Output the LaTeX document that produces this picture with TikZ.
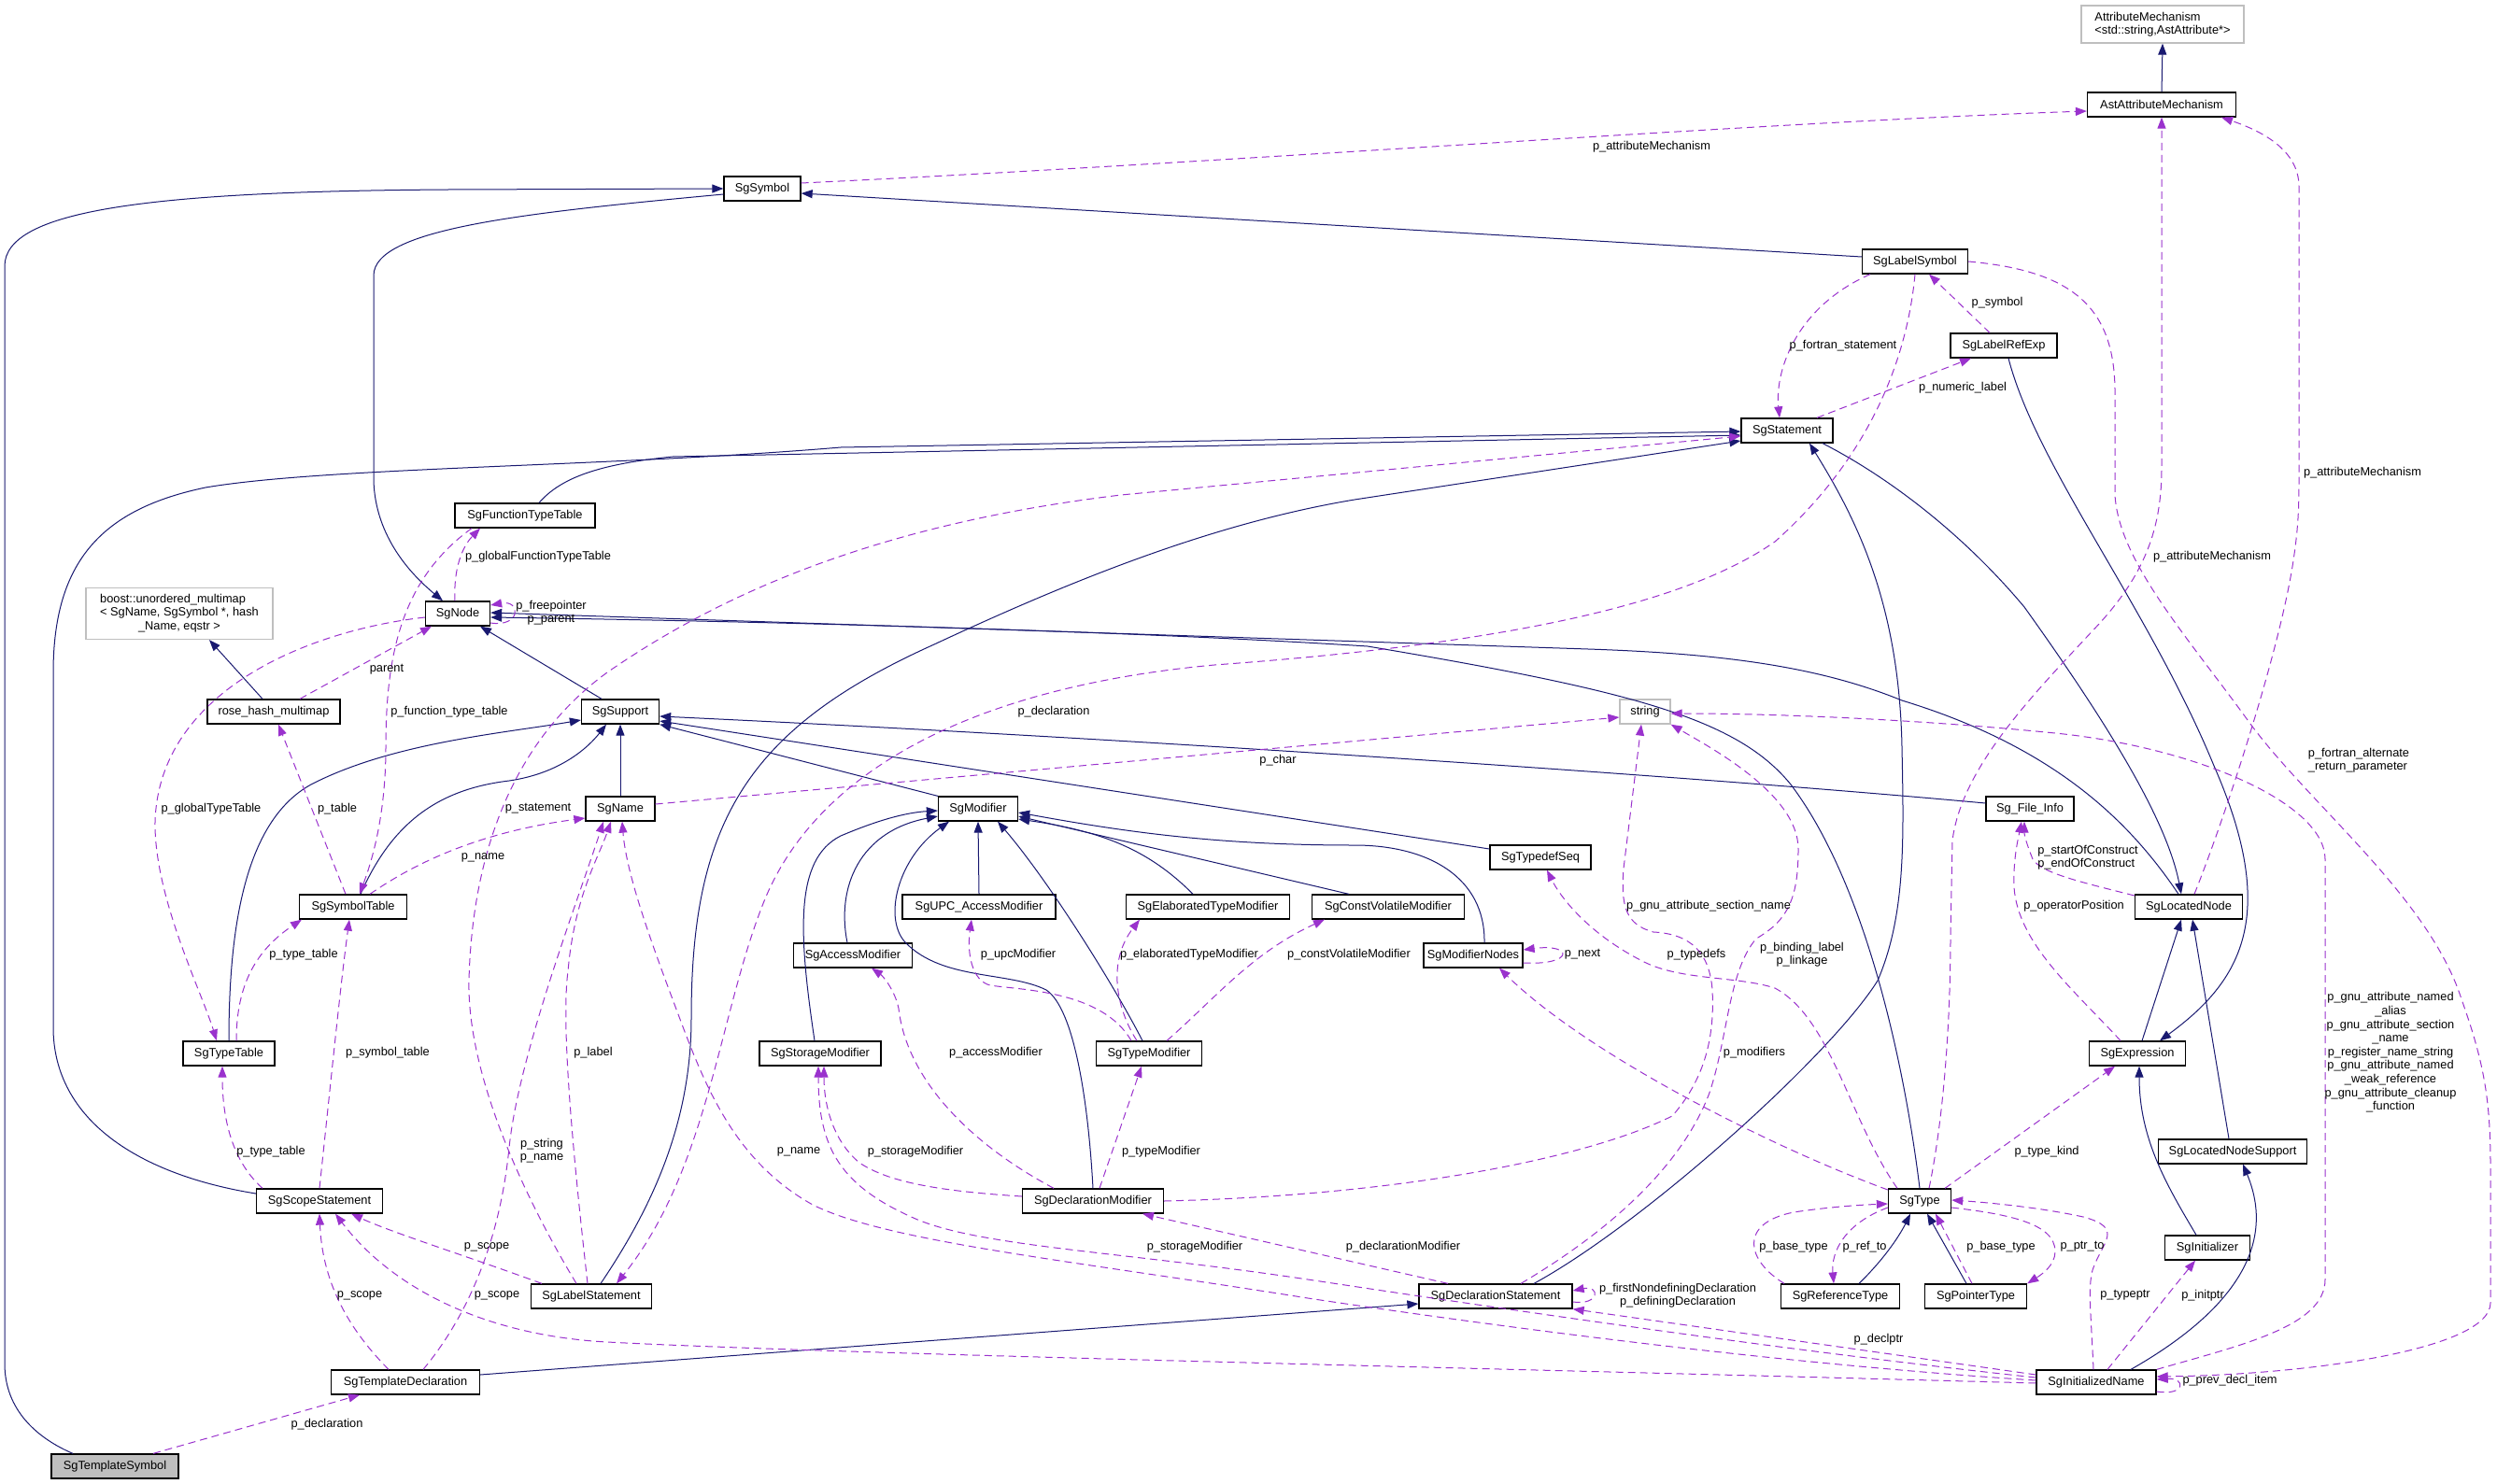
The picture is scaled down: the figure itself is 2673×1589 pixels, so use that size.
\documentclass[tikz,border=0pt]{standalone}
\usepackage{fontspec}
\setmainfont{Liberation Sans}
\usepackage{tikz}
\usetikzlibrary{arrows.meta}
\definecolor{inhcol}{RGB}{25,25,112}
\definecolor{usecol}{RGB}{154,50,205}

\begin{document}
\begin{tikzpicture}[
    x=1pt, y=-1pt,
    font=\fontsize{12.8}{14.6}\selectfont,
    cls/.style={draw=black, line width=1.3pt, fill=white, minimum height=26pt, inner sep=0pt},
    extcls/.style={draw=black!25, line width=1.3pt, fill=white, inner xsep=9pt, inner ysep=3pt},
    maincls/.style={cls, fill=black!25},
    inh/.style={draw=inhcol, line width=1pt, -{Triangle[length=12pt,width=9pt]}},
    use/.style={draw=usecol, line width=1pt, dash pattern=on 8pt off 5pt, -{Triangle[length=12pt,width=9pt]}},
    lbl/.style={inner sep=0pt, align=center}
]
\useasboundingbox (0,0) rectangle (2673,1589);

% Class boxes.
\node[extcls, minimum width=174pt, minimum height=40pt, align=left] (attrmech) at (2315,26) {AttributeMechanism\\<std::string,AstAttribute*>};
\node[cls, minimum width=159pt] (astattr) at (2314,112) {AstAttributeMechanism};
\node[cls, minimum width=82pt] (sgsymbol) at (816,202) {SgSymbol};
\node[cls, minimum width=113pt] (labelsym) at (2050,280) {SgLabelSymbol};
\node[cls, minimum width=114pt] (labelref) at (2145,370) {SgLabelRefExp};
\node[cls, minimum width=98pt] (statement) at (1913,461) {SgStatement};
\node[cls, minimum width=150pt] (functable) at (562,552) {SgFunctionTypeTable};
\node[extcls, minimum width=200pt, minimum height=55pt] (multimap) at (192,657)
    {\begin{tabular}{@{}l@{}}boost::unordered\_multimap\\< SgName, SgSymbol *, hash\\\multicolumn{1}{@{}c@{}}{\_Name, eqstr >}\end{tabular}};
\node[cls, minimum width=69pt] (sgnode) at (490,657) {SgNode};
\node[cls, minimum width=142pt] (rosehash) at (293,762) {rose\_hash\_multimap};
\node[cls, minimum width=83pt] (support) at (664,762) {SgSupport};
\node[extcls, minimum width=54pt, minimum height=26pt, inner sep=0pt] (strg) at (1761,762) {string};
\node[cls, minimum width=74pt] (sgname) at (664,866) {SgName};
\node[cls, minimum width=85pt] (modifier) at (1047,866) {SgModifier};
\node[cls, minimum width=94pt] (fileinfo) at (2173,866) {Sg\_File\_Info};
\node[cls, minimum width=108pt] (typedefseq) at (1649,918) {SgTypedefSeq};
\node[cls, minimum width=115pt] (symtable) at (378,971) {SgSymbolTable};
\node[cls, minimum width=164pt] (upcmod) at (1048,971) {SgUPC\_AccessModifier};
\node[cls, minimum width=175pt] (elabmod) at (1293,971) {SgElaboratedTypeModifier};
\node[cls, minimum width=163pt] (cvmod) at (1486,971) {SgConstVolatileModifier};
\node[cls, minimum width=115pt] (locnode) at (2343,971) {SgLocatedNode};
\node[cls, minimum width=127pt] (accessmod) at (913,1023) {SgAccessModifier};
\node[cls, minimum width=106pt] (modnodes) at (1577,1023) {SgModifierNodes};
\node[cls, minimum width=98pt] (typetable) at (245,1128) {SgTypeTable};
\node[cls, minimum width=130pt] (storagemod) at (878,1128) {SgStorageModifier};
\node[cls, minimum width=113pt] (typemod) at (1230,1128) {SgTypeModifier};
\node[cls, minimum width=103pt] (expression) at (2288,1128) {SgExpression};
\node[cls, minimum width=159pt] (locsupport) at (2390,1233) {SgLocatedNodeSupport};
\node[cls, minimum width=135pt] (scopestmt) at (342,1286) {SgScopeStatement};
\node[cls, minimum width=151pt] (declmod) at (1170,1286) {SgDeclarationModifier};
\node[cls, minimum width=67pt] (sgtype) at (2055,1286) {SgType};
\node[cls, minimum width=91pt] (initializer) at (2363,1336) {SgInitializer};
\node[cls, minimum width=129pt] (labelstmt) at (633,1388) {SgLabelStatement};
\node[cls, minimum width=164pt] (declstmt) at (1601,1388) {SgDeclarationStatement};
\node[cls, minimum width=127pt] (reftype) at (1970,1388) {SgReferenceType};
\node[cls, minimum width=109pt] (ptrtype) at (2115,1388) {SgPointerType};
\node[cls, minimum width=159pt] (templdecl) at (434,1480) {SgTemplateDeclaration};
\node[cls, minimum width=128pt] (initname) at (2244,1480) {SgInitializedName};
\node[maincls, minimum width=136pt] (templsym) at (123,1570) {SgTemplateSymbol};

% Base classes (solid).
\draw[inh] ([xshift=-45pt]templsym.north) .. controls (40,1540) and (5,1510) .. (5,1460) -- (5,285) .. controls (5,225) and (160,205) .. (480,203) -- (sgsymbol.west);
\draw[inh] ([yshift=-6pt]sgsymbol.west) .. controls (560,228) and (400,245) .. (400,295) -- (400,515) .. controls (402,575) and (440,615) .. ([xshift=-16pt]sgnode.north);
\draw[inh] ([yshift=5pt]labelsym.west) -- ([yshift=-5pt]sgsymbol.east);
\draw[inh] (astattr.north) -- (attrmech.south);
\draw[inh] ([yshift=8pt]scopestmt.west) .. controls (150,1258) and (57,1200) .. (57,1100) -- (57,720) .. controls (57,600) and (110,545) .. (220,522) .. controls (350,500) and (650,500) .. (900,479) -- ([yshift=-1pt]statement.west);
\draw[inh] ([xshift=15pt]functable.north) .. controls (600,512) and (640,497) .. (720,489) -- ([yshift=-5pt]statement.west);
\draw[inh] ([xshift=10pt]labelstmt.north) .. controls (700,1290) and (740,1200) .. (740,1090) .. controls (740,880) and (800,780) .. (1000,690) .. controls (1150,620) and (1300,560) .. (1450,535) -- ([yshift=-11pt]statement.west);
\draw[inh] ([xshift=41pt]declstmt.north) .. controls (1760,1310) and (1960,1130) .. (2010,1050) .. controls (2040,980) and (2038,900) .. (2036,800) .. controls (2033,650) and (1990,560) .. ([xshift=24pt]statement.south);
\draw[inh] ([xshift=38pt]statement.south) .. controls (2020,510) and (2100,570) .. (2167,650) .. controls (2260,780) and (2320,880) .. ([xshift=-8pt]locnode.north);
\draw[inh] ([xshift=5pt]labelref.south) .. controls (2180,500) and (2300,650) .. (2370,820) .. controls (2440,980) and (2400,1050) .. ([xshift=24pt]expression.north);
\draw[inh] ([xshift=5pt]expression.north) -- ([xshift=-8pt]locnode.south);
\draw[inh] ([xshift=-4pt]locsupport.north) -- ([xshift=4pt]locnode.south);
\draw[inh] ([xshift=-12pt]initializer.north) .. controls (2320,1270) and (2290,1220) .. ([xshift=2pt]expression.south);
\draw[inh] ([xshift=37pt]initname.north) .. controls (2380,1410) and (2440,1340) .. ([xshift=11pt]locsupport.south);
\draw[inh] ([xshift=20pt]reftype.north) .. controls (2020,1345) and (2035,1320) .. ([xshift=-10pt]sgtype.south);
\draw[inh] ([xshift=-10pt]ptrtype.north) -- ([xshift=8pt]sgtype.south);
\draw[inh] (sgtype.north) .. controls (2040,1150) and (2000,950) .. (1917,840) .. controls (1860,770) and (1750,740) .. (1464,692) .. controls (1200,675) and (800,665) .. ([yshift=-4pt]sgnode.east);
\draw[inh] ([xshift=-11pt]locnode.north) .. controls (2280,880) and (2200,800) .. (2036,750) .. controls (1950,715) and (1850,700) .. (1700,695) -- ([yshift=1pt]sgnode.east);
\draw[inh] ([xshift=-20pt]support.north) -- ([xshift=24pt]sgnode.south);
\draw[inh] (sgname.north) -- (support.south);
\draw[inh] ([xshift=8pt]symtable.north) .. controls (420,880) and (470,845) .. (545,836) .. controls (600,828) and (630,800) .. ([xshift=-15pt]support.south);
\draw[inh] (typetable.north) .. controls (245,1000) and (260,880) .. (333,840) .. controls (420,795) and (540,785) .. ([yshift=-9pt]support.west);
\draw[inh] (modifier.north west) -- (support.south east);
\draw[inh] ([yshift=9pt]typedefseq.west) -- ([yshift=-10pt]support.east);
\draw[inh] ([yshift=6pt]fileinfo.west) .. controls (1800,830) and (1200,790) .. ([yshift=-5pt]support.east);
\draw[inh] ([xshift=12pt]modnodes.north) .. controls (1590,940) and (1530,905) .. (1450,905) .. controls (1300,905) and (1200,890) .. ([yshift=-4pt]modifier.east);
\draw[inh] ([xshift=-42pt]cvmod.north) -- ([yshift=-8pt]modifier.east);
\draw[inh] ([xshift=-16pt]elabmod.north) .. controls (1230,910) and (1180,890) .. ([yshift=-11pt]modifier.east);
\draw[inh] (upcmod.north) -- (modifier.south);
\draw[inh] ([xshift=-7pt]typemod.north) .. controls (1190,1050) and (1120,940) .. ([xshift=21pt]modifier.south);
\draw[inh] (declmod.north) .. controls (1165,1180) and (1150,1080) .. (1120,1060) .. controls (1080,1040) and (1010,1050) .. (970,1010) .. controls (945,985) and (960,920) .. ([xshift=-31pt]modifier.south);
\draw[inh] ([xshift=-6pt]accessmod.north) .. controls (895,950) and (920,890) .. ([yshift=-8pt]modifier.west);
\draw[inh] ([xshift=-6pt]storagemod.north) .. controls (855,1000) and (850,920) .. (900,895) .. controls (940,878) and (970,870) .. ([yshift=-2pt]modifier.west);
\draw[inh] ([yshift=8pt]templdecl.east) -- ([yshift=-8pt]declstmt.west);
\draw[inh] ([xshift=-12pt]rosehash.north) -- ([xshift=32pt]multimap.south);

% Member pointers (dashed).
\draw[use] ([yshift=6pt]sgsymbol.east) .. controls (1300,175) and (1900,130) .. ([yshift=-7pt]astattr.west);
\draw[use] ([xshift=-48pt]labelsym.south) .. controls (1920,330) and (1900,400) .. ([xshift=-8pt]statement.north);
\draw[use] ([xshift=-15pt]labelref.north) -- ([xshift=15pt]labelsym.south);
\draw[use] ([xshift=32pt]statement.north) -- ([xshift=-35pt]labelref.south);
\draw[use] (labelsym.south) .. controls (2040,400) and (1990,500) .. (1900,580) .. controls (1800,650) and (1600,690) .. (1300,712) .. controls (1050,735) and (880,820) .. (820,960) .. controls (770,1080) and (760,1250) .. ([xshift=27pt]labelstmt.north);
\draw[use] (labelsym.east) .. controls (2220,290) and (2264,330) .. (2264,420) -- (2264,530) .. controls (2268,600) and (2340,680) .. (2406,771) .. controls (2470,860) and (2600,960) .. (2635,1070) .. controls (2660,1140) and (2666,1180) .. (2666,1250) -- (2666,1395) .. controls (2666,1445) and (2470,1472) .. ([yshift=6pt]initname.east);
\draw[use] ([xshift=10pt]sgtype.north) .. controls (2080,1200) and (2088,1100) .. (2088,1000) -- (2090,900) .. controls (2100,820) and (2180,740) .. (2247,668) .. controls (2300,610) and (2314,560) .. (2314,500) -- (astattr.south);
\draw[use] ([xshift=6pt]locnode.north) .. controls (2380,880) and (2440,700) .. (2455,600) .. controls (2461,560) and (2461,540) .. (2461,500) -- (2461,200) .. controls (2461,160) and (2420,140) .. ([xshift=64pt]astattr.south);
\draw[use] ([yshift=5pt]sgname.east) -- ([yshift=-6pt]strg.west);
\draw[use] (declmod.east) .. controls (1500,1280) and (1700,1240) .. (1790,1195) .. controls (1830,1150) and (1835,1100) .. (1833,1060) .. controls (1830,1020) and (1810,1000) .. (1770,998) .. controls (1740,990) and (1735,970) .. (1738,930) -- ([xshift=-4pt]strg.south);
\draw[use] ([xshift=27pt]declstmt.north) .. controls (1720,1320) and (1800,1250) .. (1830,1170) .. controls (1850,1110) and (1850,1040) .. (1880,1005) .. controls (1915,985) and (1925,960) .. (1925,909) .. controls (1925,850) and (1830,800) .. (strg.south east);
\draw[use] (initname.north east) .. controls (2400,1440) and (2489,1420) .. (2489,1370) -- (2489,920) .. controls (2489,860) and (2350,800) .. (2200,785) .. controls (2050,770) and (1900,764) .. ([yshift=-2pt]strg.east);
\draw[use] ([xshift=-24pt]sgtype.north) .. controls (1980,1200) and (1960,1090) .. (1900,1058) .. controls (1860,1045) and (1800,1050) .. (1760,1030) .. controls (1700,1000) and (1670,960) .. ([xshift=7pt]typedefseq.south);
\draw[use] ([yshift=12pt]sgtype.west) .. controls (1900,1230) and (1700,1130) .. ([xshift=28pt]modnodes.south);
\draw[use] ([xshift=27pt]sgtype.north) -- ([xshift=-24pt]expression.south);
\draw[use] ([xshift=-18pt]expression.north) .. controls (2220,1060) and (2160,1010) .. (2156,950) .. controls (2155,920) and (2160,900) .. ([xshift=-9pt]fileinfo.south);
\draw[use] ([yshift=12pt]locnode.west) .. controls (2230,945) and (2185,935) .. (2176,920) .. controls (2170,905) and (2167,895) .. ([xshift=-6pt]fileinfo.south);
\draw[use] ([xshift=-60pt]reftype.north) .. controls (1870,1350) and (1860,1310) .. (1920,1298) .. controls (1960,1292) and (1995,1290) .. ([yshift=-3pt]sgtype.west);
\draw[use] ([yshift=-7pt]sgtype.west) .. controls (1975,1310) and (1960,1340) .. ([xshift=-7pt]reftype.north);
\draw[use] ([xshift=-4pt]ptrtype.north) -- ([xshift=17pt]sgtype.south);
\draw[use] ([yshift=-7pt]sgtype.east) .. controls (2150,1300) and (2200,1310) .. (2200,1340) .. controls (2200,1355) and (2185,1365) .. (ptrtype.north east);
\draw[use] ([xshift=-3pt]initname.north) .. controls (2238,1400) and (2235,1380) .. (2240,1360) .. controls (2250,1330) and (2275,1315) .. (2230,1303) .. controls (2180,1292) and (2120,1287) .. ([yshift=1pt]sgtype.east);
\draw[use] ([xshift=12pt]initname.north) -- ([xshift=-13pt]initializer.south);
\draw[use] ([yshift=-10pt]initname.east) .. controls (2340,1495) and (2340,1475) .. ([yshift=3pt]initname.east);
\draw[use] ([yshift=8pt]initname.west) -- (declstmt.south east);
\draw[use] ([yshift=5pt]initname.west) .. controls (1900,1445) and (1600,1400) .. (1400,1370) .. controls (1200,1340) and (1050,1335) .. (980,1305) .. controls (900,1270) and (876,1230) .. ([xshift=-2pt]storagemod.south);
\draw[use] ([yshift=5pt]declmod.west) .. controls (1000,1275) and (950,1265) .. (920,1245) .. controls (890,1220) and (882,1180) .. ([xshift=4pt]storagemod.south);
\draw[use] ([yshift=2pt]initname.west) .. controls (1900,1460) and (1600,1420) .. (1400,1390) .. controls (1150,1350) and (950,1330) .. (870,1290) .. controls (780,1240) and (750,1150) .. (720,1070) .. controls (690,990) and (670,930) .. ([xshift=2pt]sgname.south);
\draw[use] ([yshift=-1pt]initname.west) .. controls (1600,1465) and (900,1450) .. (650,1437) .. controls (520,1430) and (420,1380) .. ([xshift=17pt]scopestmt.south);
\draw[use] ([xshift=-18pt]templdecl.north) .. controls (370,1420) and (345,1370) .. (scopestmt.south);
\draw[use] ([xshift=-53pt]labelstmt.north) .. controls (500,1345) and (420,1320) .. ([xshift=34pt]scopestmt.south);
\draw[use] ([xshift=19pt]templdecl.north) .. controls (500,1410) and (535,1330) .. (545,1229) .. controls (555,1130) and (620,960) .. ([xshift=-18pt]sgname.south);
\draw[use] ([xshift=-4pt]labelstmt.north) .. controls (615,1250) and (600,1100) .. (608,1040) .. controls (615,960) and (640,920) .. ([xshift=-10pt]sgname.south);
\draw[use] ([xshift=-16pt]labelstmt.north) .. controls (560,1280) and (500,1150) .. (502,1050) .. controls (505,930) and (540,800) .. (650,720) .. controls (780,630) and (950,560) .. (1200,530) -- ([yshift=-6pt]statement.west);
\draw[use] ([xshift=18pt]symtable.north) .. controls (450,920) and (520,890) .. ([yshift=-10pt]sgname.west);
\draw[use] ([yshift=-4pt]sgnode.west) .. controls (330,675) and (170,740) .. (166,880) .. controls (165,960) and (215,1060) .. ([xshift=-13pt]typetable.north);
\draw[use] ([xshift=-3pt]sgnode.north) .. controls (485,600) and (500,580) .. ([xshift=-48pt]functable.south);
\draw[use] ([yshift=-10pt]sgnode.east) .. controls (558,672) and (558,642) .. ([yshift=9pt]sgnode.east);
\draw[use] ([xshift=28pt]rosehash.north) -- ([xshift=-28pt]sgnode.south);
\draw[use] ([xshift=-8pt]symtable.north) -- ([xshift=5pt]rosehash.south);
\draw[use] ([xshift=-57pt]functable.south) .. controls (430,620) and (413,700) .. (413,800) .. controls (413,880) and (395,930) .. ([xshift=7pt]symtable.north);
\draw[use] ([xshift=8pt]typetable.north) .. controls (253,1060) and (270,1020) .. ([xshift=-55pt]symtable.south);
\draw[use] ([xshift=-61pt]scopestmt.north) .. controls (245,1240) and (238,1190) .. ([xshift=-7pt]typetable.south);
\draw[use] (scopestmt.north) .. controls (355,1150) and (365,1050) .. ([xshift=-4pt]symtable.south);
\draw[use] ([xshift=41pt]templsym.north) -- ([xshift=-49pt]templdecl.south);
\draw[use] ([xshift=-51pt]declstmt.north) -- ([xshift=53pt]declmod.south);
\draw[use] ([xshift=-42pt]declmod.north) .. controls (1030,1220) and (970,1150) .. (962,1080) .. controls (958,1060) and (945,1045) .. ([xshift=20pt]accessmod.south);
\draw[use] ([xshift=7pt]declmod.north) -- ([xshift=-8pt]typemod.south);
\draw[use] ([xshift=-19pt]typemod.north) .. controls (1180,1060) and (1090,1060) .. (1060,1055) .. controls (1040,1050) and (1035,1020) .. ([xshift=-8pt]upcmod.south);
\draw[use] ([xshift=-13pt]typemod.north) .. controls (1195,1080) and (1185,1030) .. ([xshift=-73pt]elabmod.south);
\draw[use] ([xshift=19pt]typemod.north) .. controls (1300,1070) and (1340,1020) .. ([xshift=-68pt]cvmod.south);
\draw[use] ([yshift=-8pt]modnodes.east) .. controls (1685,1034) and (1685,1010) .. ([yshift=6pt]modnodes.east);
\draw[use] ([yshift=-6pt]declstmt.east) .. controls (1713,1398) and (1713,1376) .. ([yshift=6pt]declstmt.east);

% Labels.
\node[lbl] (lbSymAttr) at (1768,157) {p\_attributeMechanism};
\node[lbl] (lbSymbol) at (2138,324) {p\_symbol};
\node[lbl] (lbFortStmt) at (1973,370) {p\_fortran\_statement};
\node[lbl] (lbNumLabel) at (2101,415) {p\_numeric\_label};
\node[lbl] (lbTypeAttr) at (2368,596) {p\_attributeMechanism};
\node[lbl] (lbLocAttr) at (2529,506) {p\_attributeMechanism};
\node[lbl] (lbGlobFunc) at (576,596) {p\_globalFunctionTypeTable};
\node[lbl] (lbNodeSelf) at (590,656) {p\_freepointer\\p\_parent};
\node[lbl] (lbParent) at (414,717) {parent};
\node[lbl] (lbFuncTable) at (481,762) {p\_function\_type\_table};
\node[lbl] (lbLabelDecl) at (1128,762) {p\_declaration};
\node[lbl] (lbChar) at (1368,814) {p\_char};
\node[lbl, align=left] (lbAltReturn) at (2525,814) {p\_fortran\_alternate\\\_return\_parameter};
\node[lbl] (lbGlobType) at (226,866) {p\_globalTypeTable};
\node[lbl] (lbTable) at (361,866) {p\_table};
\node[lbl] (lbStatement) at (576,866) {p\_statement};
\node[lbl] (lbSymName) at (517,918) {p\_name};
\node[lbl, align=left] (lbConstruct) at (2235,918) {p\_startOfConstruct\\p\_endOfConstruct};
\node[lbl] (lbSection) at (1829,970) {p\_gnu\_attribute\_section\_name};
\node[lbl] (lbOperator) at (2220,970) {p\_operatorPosition};
\node[lbl] (lbTypeTabA) at (325,1022) {p\_type\_table};
\node[lbl] (lbUpc) at (1090,1022) {p\_upcModifier};
\node[lbl] (lbElab) at (1273,1022) {p\_elaboratedTypeModifier};
\node[lbl] (lbCv) at (1444,1022) {p\_constVolatileModifier};
\node[lbl] (lbNext) at (1694,1022) {p\_next};
\node[lbl] (lbTypedefs) at (1816,1022) {p\_typedefs};
\node[lbl] (lbBinding) at (1929,1022) {p\_binding\_label\\p\_linkage};
\node[lbl] (lbGnu) at (2559,1127) {p\_gnu\_attribute\_named\\\_alias\\p\_gnu\_attribute\_section\\\_name\\p\_register\_name\_string\\p\_gnu\_attribute\_named\\\_weak\_reference\\p\_gnu\_attribute\_cleanup\\\_function};
\node[lbl] (lbSymTab) at (415,1127) {p\_symbol\_table};
\node[lbl] (lbLabel) at (635,1127) {p\_label};
\node[lbl] (lbAccess) at (1066,1127) {p\_accessModifier};
\node[lbl] (lbModifiers) at (1878,1127) {p\_modifiers};
\node[lbl] (lbTypeTabB) at (290,1233) {p\_type\_table};
\node[lbl] (lbStrName) at (580,1232) {p\_string\\p\_name};
\node[lbl] (lbInitName) at (855,1233) {p\_name};
\node[lbl] (lbStorA) at (980,1233) {p\_storageModifier};
\node[lbl] (lbTypeMod) at (1243,1233) {p\_typeModifier};
\node[lbl] (lbTypeKind) at (2191,1233) {p\_type\_kind};
\node[lbl] (lbScopeA) at (521,1335) {p\_scope};
\node[lbl] (lbStorB) at (1279,1335) {p\_storageModifier};
\node[lbl] (lbDeclMod) at (1502,1335) {p\_declarationModifier};
\node[lbl] (lbRefBase) at (1920,1335) {p\_base\_type};
\node[lbl] (lbRefTo) at (1996,1335) {p\_ref\_to};
\node[lbl] (lbPtrBase) at (2142,1335) {p\_base\_type};
\node[lbl] (lbPtrTo) at (2229,1335) {p\_ptr\_to};
\node[lbl] (lbDeclSelf) at (1796,1387) {p\_firstNondefiningDeclaration\\p\_definingDeclaration};
\node[lbl] (lbScopeB) at (385,1387) {p\_scope};
\node[lbl] (lbScopeC) at (532,1387) {p\_scope};
\node[lbl] (lbTypePtr) at (2275,1387) {p\_typeptr};
\node[lbl] (lbInitPtr) at (2358,1387) {p\_initptr};
\node[lbl] (lbDeclPtr) at (2011,1434) {p\_declptr};
\node[lbl] (lbPrevDecl) at (2387,1478) {p\_prev\_decl\_item};
\node[lbl] (lbTemplDecl) at (350,1525) {p\_declaration};

\end{tikzpicture}
\end{document}
